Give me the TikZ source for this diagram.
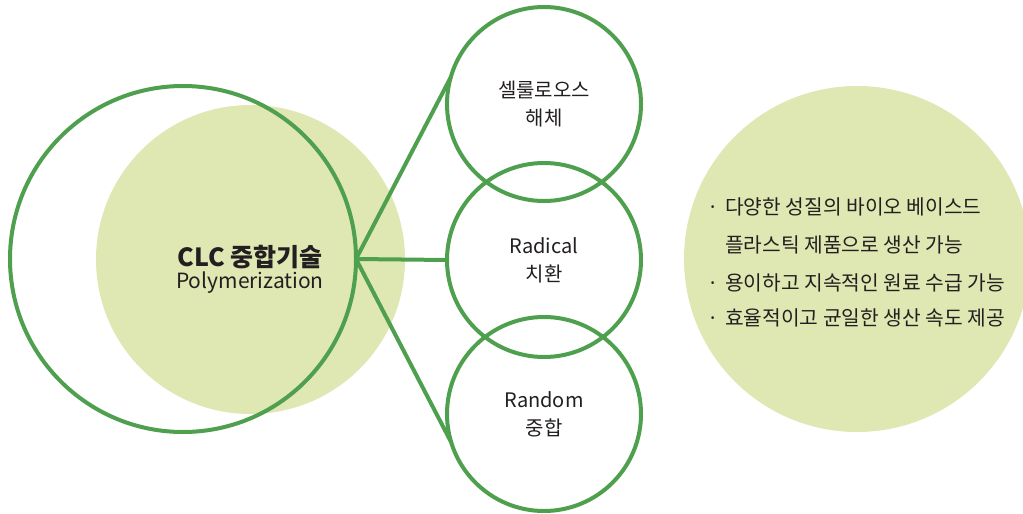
\documentclass[tikz,border=0pt]{standalone}
\usepackage{fontspec}
\setmainfont{Noto Sans CJK KR}
\definecolor{lgreen}{HTML}{4EA04E}
\definecolor{lfill}{HTML}{DFE7B3}
\definecolor{ink}{HTML}{231F20}
\begin{document}
\begin{tikzpicture}[x=1pt,y=-1pt,
  ring/.style={circle,draw=lgreen,line width=4pt,inner sep=0pt,outer sep=0pt},
  disc/.style={circle,fill=lfill,inner sep=0pt,outer sep=0pt},
  link/.style={draw=lgreen,line width=4pt},
  lbl/.style={text=ink,font=\fontsize{20}{28}\selectfont,align=center},
  bul/.style={text=ink,font=\fontsize{20.3}{24}\selectfont,anchor=base,inner sep=0pt},
  line/.style={text=ink,font=\fontsize{20.3}{24}\selectfont,anchor=base west,inner sep=0pt}]
\useasboundingbox (0,0) rectangle (1023,514);
\clip (0,0) rectangle (1023,514);
% filled discs
\node[disc,minimum size=309pt] (core) at (250.5,259.5) {};
\node[disc,minimum size=346pt] (info) at (857,259) {};
% outline circle
\node[ring,minimum size=346pt] (outer) at (183,259) {};
% title
\node[anchor=base,inner sep=0pt,text=ink,font=\fontsize{25}{25}\selectfont\bfseries] (title) at (250,266) {CLC 중합기술};
\node[anchor=base,inner sep=0pt,text=ink,font=\fontsize{21}{21}\selectfont] (sub) at (250,288) {Polymerization};
% small circles
\node[ring,lbl,minimum size=194pt] (c1) at (544,104) {셀룰로오스\\해체};
\node[ring,lbl,minimum size=194pt] (c2) at (544,260) {Radical\\치환};
\node[ring,lbl,minimum size=194pt] (c3) at (544,414) {Random\\중합};
% connectors
\draw[link] (outer.east) -- (c1.164.5);
\draw[link] (outer.east) -- (c2.west);
\draw[link] (outer.east) -- (c3.197);
% bullet list
\node[bul] (b1) at (713,214) {·};
\node[line] (l1) at (725,214) {다양한 성질의 바이오 베이스드};
\node[line] (l2) at (725,252) {플라스틱 제품으로 생산 가능};
\node[bul] (b3) at (713,290) {·};
\node[line] (l3) at (725,290) {용이하고 지속적인 원료 수급 가능};
\node[bul] (b4) at (713,325) {·};
\node[line] (l4) at (725,325) {효율적이고 균일한 생산 속도 제공};
\end{tikzpicture}
\end{document}
